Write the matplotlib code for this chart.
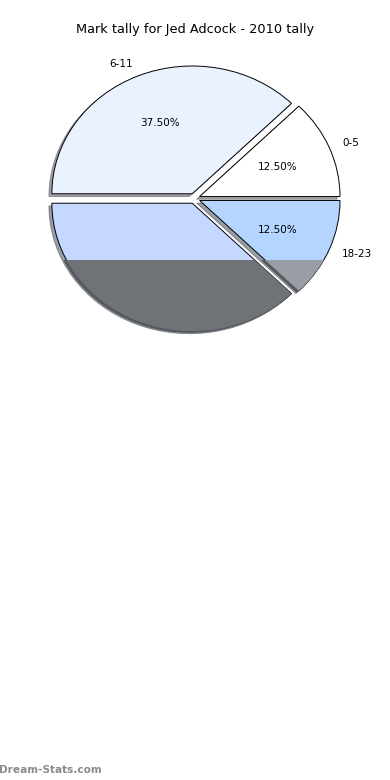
import matplotlib
matplotlib.use('Agg')
import matplotlib.pyplot as plt
import matplotlib.patches as mpatches

# data: marks per time band
bands = ['0-5', '6-11', '12-17', '18-23']
tally = [1, 3, 3, 1]
shown_labels = ['0-5', '6-11', '', '18-23']

colors = ['#ffffff', '#eaf1ff', '#c5d8ff', '#b3d5ff']
dark_colors = ['#ffffff', '#eaf1ff', '#6f7277', '#999ea4']

fig = plt.figure(figsize=(3.9, 7.8), dpi=100)
ax = fig.add_axes([0.0485, 0.5407, 0.9, 0.4096])

off = -0.015
wedges, texts, autotexts = ax.pie(
    tally, labels=shown_labels, colors=colors, explode=[0.04] * 4,
    autopct='%.2f%%', pctdistance=0.6, labeldistance=1.1,
    shadow={'ox': off, 'oy': off}, startangle=0, counterclock=True,
    wedgeprops={'edgecolor': 'black', 'linewidth': 0.7},
    textprops={'fontsize': 7.5})
# the 12-17 number sits under the grey band in the original
autotexts[2].set_text('')

ax.set_aspect('auto')
ax.set_xlim(-1.25, 1.25)
ax.set_ylim(-1.25, 1.25)
ax.axis('off')

# grey band over the bottom part of the pie
clip = mpatches.Rectangle((-2, -3), 4, 3 - 0.481, transform=ax.transData)
for i in (2, 3):
    w = wedges[i]
    sh = mpatches.Wedge((w.center[0] + off, w.center[1] + off), w.r, w.theta1, w.theta2,
                        facecolor='#55585c', edgecolor='none', zorder=2.5)
    ax.add_patch(sh)
    sh.set_clip_path(clip)
for i in (2, 3):
    w = wedges[i]
    dk = mpatches.Wedge(w.center, w.r, w.theta1, w.theta2,
                        facecolor=dark_colors[i], edgecolor='none', zorder=2.6)
    ax.add_patch(dk)
    dk.set_clip_path(clip)

fig.text(0.5, 1 - 30 / 780, 'Mark tally for Jed Adcock - 2010 tally',
         ha='center', va='center', fontsize=9.3)
fig.text(-0.003, 1 - 770 / 780, 'Dream-Stats.com', ha='left', va='center',
         fontsize=7.6, color='#8a8a8a', fontweight='bold')

fig.savefig('out.png', dpi=100)
